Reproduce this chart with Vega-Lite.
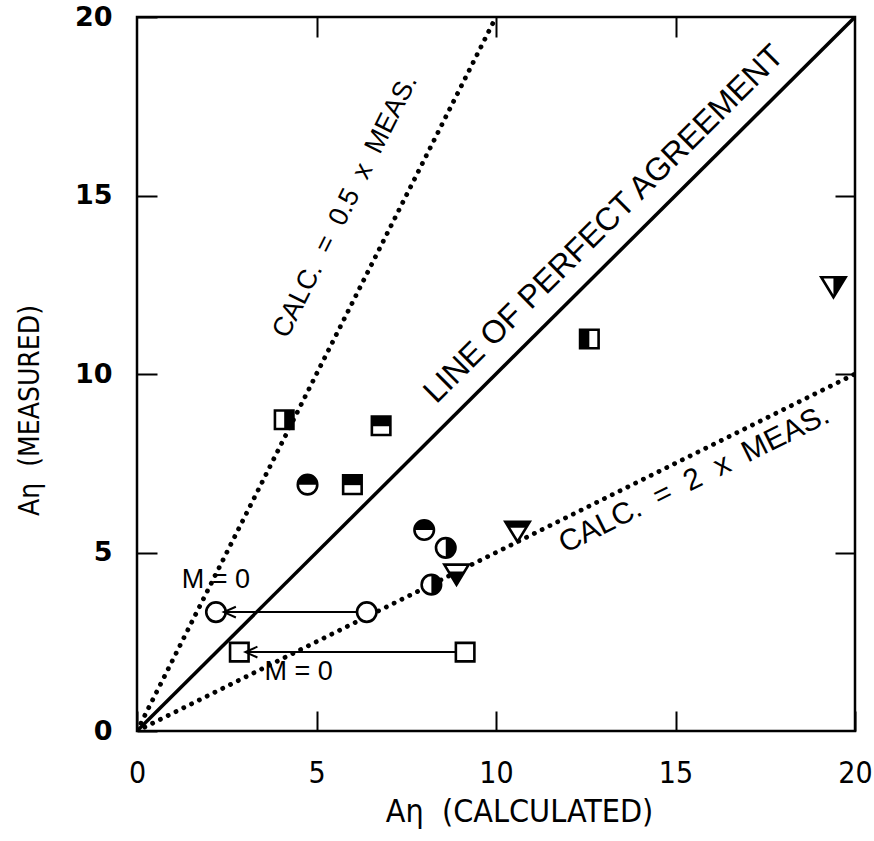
{
  "$schema": "https://vega.github.io/schema/vega-lite/v6.json",
  "width": 718,
  "height": 714,
  "autosize": {"type": "none"},
  "padding": {"left": 137, "top": 17, "right": 19, "bottom": 110},
  "background": "white",
  "config": {
    "view": {"stroke": "black", "strokeWidth": 2.5},
    "font": "Liberation Sans"
  },
  "datasets": {
    "guides": [
      {"line": "agreement", "calc": 0, "meas": 0},
      {"line": "agreement", "calc": 20, "meas": 20},
      {"line": "half", "calc": 0, "meas": 0},
      {"line": "half", "calc": 10, "meas": 20},
      {"line": "double", "calc": 0, "meas": 0},
      {"line": "double", "calc": 20, "meas": 10}
    ],
    "arrows": [
      {"from": 6.12, "tip": 2.42, "meas": 3.33},
      {"from": 8.86, "tip": 3.02, "meas": 2.21}
    ],
    "points": [
      {"calc": 4.1, "meas": 8.72, "marker": "square-right"},
      {"calc": 6.8, "meas": 8.55, "marker": "square-top"},
      {"calc": 6.0, "meas": 6.9, "marker": "square-top"},
      {"calc": 12.6, "meas": 10.98, "marker": "square-left"},
      {"calc": 4.75, "meas": 6.9, "marker": "circle-top"},
      {"calc": 8.0, "meas": 5.63, "marker": "circle-top"},
      {"calc": 8.6, "meas": 5.13, "marker": "circle-right"},
      {"calc": 8.2, "meas": 4.1, "marker": "circle-right"},
      {"calc": 8.9, "meas": 4.4, "marker": "triangle-bottom"},
      {"calc": 10.6, "meas": 5.6, "marker": "triangle-band"},
      {"calc": 19.4, "meas": 12.45, "marker": "triangle-right"},
      {"calc": 6.4, "meas": 3.33, "marker": "circle-open"},
      {"calc": 2.2, "meas": 3.33, "marker": "circle-open"},
      {"calc": 9.14, "meas": 2.21, "marker": "square-open"},
      {"calc": 2.85, "meas": 2.21, "marker": "square-open"}
    ],
    "notes": [
      {"id": "agree", "text": "LINE OF PERFECT AGREEMENT", "calc": 13.0, "meas": 14.2},
      {"id": "half", "text": "CALC.\u00a0\u00a0=\u00a0\u00a00.5\u00a0\u00a0x\u00a0\u00a0MEAS.", "calc": 5.8, "meas": 14.7},
      {"id": "double", "text": "CALC.\u00a0\u00a0=\u00a0\u00a02\u00a0\u00a0x\u00a0\u00a0MEAS.", "calc": 15.52, "meas": 7.05},
      {"id": "m0", "text": "M = 0", "calc": 2.2, "meas": 4.23},
      {"id": "m0", "text": "M = 0", "calc": 4.5, "meas": 1.65}
    ]
  },
  "resolve": {
    "axis": {"x": "independent", "y": "independent"},
    "scale": {"shape": "independent"}
  },
  "layer": [
    {
      "data": {"name": "guides"},
      "transform": [{"filter": "datum.line === 'agreement'"}],
      "mark": {"type": "line", "color": "black", "strokeWidth": 3.5, "clip": true},
      "encoding": {
        "x": {
          "field": "calc", "type": "quantitative",
          "scale": {"domain": [0, 20], "nice": false, "zero": false},
          "axis": {
            "orient": "bottom", "values": [0, 5, 10, 15, 20], "grid": false, "domain": false,
            "tickSize": -20, "tickWidth": 2, "tickColor": "black",
            "labelPadding": 47, "labelFont": "DejaVu Sans Condensed, Liberation Sans, sans-serif", "labelFontSize": 30,
            "labelColor": "black", "labelFlush": false,
            "title": "Aη\u00a0\u00a0(CALCULATED)", "titleFont": "DejaVu Sans Condensed, Liberation Sans, sans-serif", "titleFontSize": 32,
            "titleFontWeight": "normal", "titleColor": "black", "titleX": 382, "titleY": 80,
            "titleBaseline": "middle", "titleAnchor": "middle"
          }
        },
        "y": {
          "field": "meas", "type": "quantitative",
          "scale": {"domain": [0, 20], "nice": false, "zero": false},
          "axis": {
            "orient": "left", "values": [0, 5, 10, 15, 20], "grid": false, "domain": false,
            "tickSize": -20, "tickWidth": 2, "tickColor": "black",
            "labelPadding": 45, "labelFont": "DejaVu Sans", "labelFontWeight": "bold", "labelFontSize": 27,
            "labelColor": "black", "labelFlush": false,
            "title": "Aη\u00a0\u00a0(MEASURED)", "titleFont": "DejaVu Sans Condensed, Liberation Sans, sans-serif", "titleFontSize": 28,
            "titleFontWeight": "normal", "titleColor": "black", "titleX": -107, "titleY": 393,
            "titleBaseline": "middle", "titleAnchor": "middle", "titleAngle": -90
          }
        },
        "detail": {"field": "line"}
      }
    },
    {
      "data": {"name": "guides"},
      "transform": [{"filter": "datum.line !== 'agreement'"}],
      "mark": {"type": "line", "color": "black", "strokeWidth": 4.8, "strokeCap": "round", "strokeDash": [0.1, 8.6], "clip": true},
      "encoding": {
        "x": {
          "field": "calc", "type": "quantitative",
          "axis": {
            "orient": "top", "values": [5, 10, 15], "grid": false, "domain": false,
            "tickSize": -20, "tickWidth": 2, "tickColor": "black", "labels": false, "title": null
          }
        },
        "y": {
          "field": "meas", "type": "quantitative",
          "axis": {
            "orient": "right", "values": [5, 10, 15], "grid": false, "domain": false,
            "tickSize": -20, "tickWidth": 2, "tickColor": "black", "labels": false, "title": null
          }
        },
        "detail": {"field": "line"}
      }
    },
    {
      "data": {"name": "arrows"},
      "mark": {"type": "rule", "color": "black", "strokeWidth": 2},
      "encoding": {
        "x": {"field": "from", "type": "quantitative", "axis": null},
        "x2": {"field": "tip"},
        "y": {"field": "meas", "type": "quantitative", "axis": null}
      }
    },
    {
      "data": {"name": "points"},
      "mark": {"type": "point", "filled": false, "fill": "white", "fillOpacity": 1, "stroke": "black", "strokeWidth": 2.6, "opacity": 1, "size": 380},
      "encoding": {
        "x": {"field": "calc", "type": "quantitative", "axis": null},
        "y": {"field": "meas", "type": "quantitative", "axis": null},
        "shape": {
          "field": "marker", "type": "nominal", "legend": null,
          "scale": {
            "domain": ["square-right", "square-left", "square-top", "square-open", "circle-top", "circle-right", "circle-open", "triangle-bottom", "triangle-band", "triangle-right"],
            "range": [
              "M-0.95,-0.95H0.95V0.95H-0.95Z",
              "M-0.95,-0.95H0.95V0.95H-0.95Z",
              "M-0.95,-0.95H0.95V0.95H-0.95Z",
              "M-0.95,-0.95H0.95V0.95H-0.95Z",
              "M-1,0A1,1 0 1 1 1,0A1,1 0 1 1 -1,0Z",
              "M-1,0A1,1 0 1 1 1,0A1,1 0 1 1 -1,0Z",
              "M-1,0A1,1 0 1 1 1,0A1,1 0 1 1 -1,0Z",
              "M-1.25,-0.95H1.25L0,1.1Z",
              "M-1.25,-0.95H1.25L0,1.1Z",
              "M-1.25,-0.95H1.25L0,1.1Z"
            ]
          }
        }
      }
    },
    {
      "data": {"name": "points"},
      "transform": [{"filter": "indexof(datum.marker, 'open') < 0"}],
      "mark": {"type": "point", "filled": true, "fill": "black", "fillOpacity": 1, "strokeWidth": 0, "opacity": 1, "size": 380},
      "encoding": {
        "x": {"field": "calc", "type": "quantitative", "axis": null},
        "y": {"field": "meas", "type": "quantitative", "axis": null},
        "shape": {
          "field": "marker", "type": "nominal", "legend": null,
          "scale": {
            "domain": ["square-right", "square-left", "square-top", "circle-top", "circle-right", "triangle-bottom", "triangle-band", "triangle-right"],
            "range": [
              "M0,-0.95H0.95V0.95H0Z",
              "M-0.95,-0.95H0V0.95H-0.95Z",
              "M-0.95,-0.95H0.95V0.05H-0.95Z",
              "M-1,0A1,1 0 0 1 1,0Z",
              "M0,-1A1,1 0 0 1 0,1Z",
              "M-0.82,-0.25H0.82L0,1.1Z",
              "M-1.25,-0.95H1.25L0.93,-0.35H-0.93Z",
              "M0,-0.95H1.25L0,1.1Z"
            ]
          }
        }
      }
    },
    {
      "data": {"name": "arrows"},
      "mark": {"type": "point", "shape": "M4,-1.8L0,0L4,1.8", "size": 36, "filled": false, "fill": null, "stroke": "black", "strokeWidth": 2, "opacity": 1},
      "encoding": {
        "x": {"field": "tip", "type": "quantitative", "axis": null},
        "y": {"field": "meas", "type": "quantitative", "axis": null}
      }
    },
    {
      "data": {"name": "notes"},
      "transform": [{"filter": "datum.id === 'agree'"}],
      "mark": {"type": "text", "angle": -44.8, "font": "Liberation Sans", "fontSize": 32, "align": "center", "baseline": "middle", "color": "black"},
      "encoding": {
        "x": {"field": "calc", "type": "quantitative", "axis": null},
        "y": {"field": "meas", "type": "quantitative", "axis": null},
        "text": {"field": "text"}
      }
    },
    {
      "data": {"name": "notes"},
      "transform": [{"filter": "datum.id === 'half'"}],
      "mark": {"type": "text", "angle": -63.3, "font": "Liberation Sans", "fontSize": 27, "align": "center", "baseline": "middle", "color": "black"},
      "encoding": {
        "x": {"field": "calc", "type": "quantitative", "axis": null},
        "y": {"field": "meas", "type": "quantitative", "axis": null},
        "text": {"field": "text"}
      }
    },
    {
      "data": {"name": "notes"},
      "transform": [{"filter": "datum.id === 'double'"}],
      "mark": {"type": "text", "angle": -26.4, "font": "Liberation Sans", "fontSize": 30, "align": "center", "baseline": "middle", "color": "black"},
      "encoding": {
        "x": {"field": "calc", "type": "quantitative", "axis": null},
        "y": {"field": "meas", "type": "quantitative", "axis": null},
        "text": {"field": "text"}
      }
    },
    {
      "data": {"name": "notes"},
      "transform": [{"filter": "datum.id === 'm0'"}],
      "mark": {"type": "text", "font": "Liberation Sans", "fontSize": 27, "align": "center", "baseline": "middle", "color": "black"},
      "encoding": {
        "x": {"field": "calc", "type": "quantitative", "axis": null},
        "y": {"field": "meas", "type": "quantitative", "axis": null},
        "text": {"field": "text"}
      }
    }
  ]
}
